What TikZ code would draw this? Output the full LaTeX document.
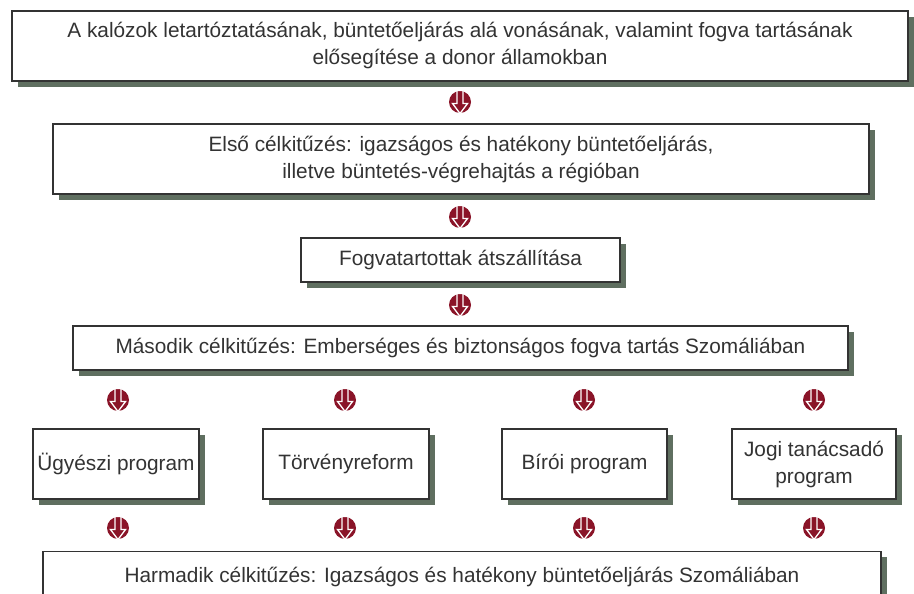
\documentclass[tikz,border=0pt]{standalone}
\usepackage{fontspec}
\setmainfont{Liberation Sans}
\definecolor{shadowc}{HTML}{5F6F60}
\definecolor{iconred}{HTML}{8A1428}
\definecolor{txt}{HTML}{333333}
\begin{document}
\begin{tikzpicture}[x=1pt,y=-1pt,
  box/.style={draw=black!80,line width=1.2pt,fill=white,align=center,text=txt,
     font=\fontsize{20.8}{27}\selectfont,inner sep=0pt},
  icon/.pic={
    \fill[iconred] (0,0) circle (11);
    \filldraw[fill=iconred,draw=white,line width=1.3pt,line join=miter]
      (-3,-11.5) -- (-3,1.5) -- (-7.5,1.5) -- (0,11.5) -- (7.5,1.5) -- (3,1.5) -- (3,-11.5) -- cycle;
  }]
\useasboundingbox (0,0) rectangle (914,594);
\newcommand{\myshbox}[4]{% x1, y1, x2, y2
  \fill[shadowc] (#1+6,#2+6) rectangle (#3+6,#4+6);
}
% shadows
\myshbox{12}{11}{908}{81}
\myshbox{53}{124}{869}{194}
\myshbox{301}{238}{620}{282}
\myshbox{73}{326}{848}{370}
\myshbox{33}{429}{199}{499}
\myshbox{263}{429}{429}{499}
\myshbox{502}{429}{667}{499}
\myshbox{732}{429}{896}{499}
\myshbox{43}{551}{881}{620}
% boxes
\node[box,minimum width=896pt,minimum height=70pt] (a) at (460,46)
  {A kalózok letartóztatásának, büntetőeljárás alá vonásának, valamint fogva tartásának\\elősegítése a donor államokban};
\node[box,minimum width=816pt,minimum height=70pt] (b) at (461,159)
  {Első célkitűzés: igazságos és hatékony büntetőeljárás,\\illetve büntetés-végrehajtás a régióban};
\node[box,minimum width=319pt,minimum height=44pt] (c) at (460.5,260)
  {Fogvatartottak átszállítása};
\node[box,minimum width=775pt,minimum height=44pt] (d) at (460.5,348)
  {Második célkitűzés: Emberséges és biztonságos fogva tartás Szomáliában};
\node[box,minimum width=166pt,minimum height=70pt] (e) at (116,464) {Ügyészi program};
\node[box,minimum width=166pt,minimum height=70pt] (f) at (346,464) {Törvényreform};
\node[box,minimum width=165pt,minimum height=70pt] (g) at (584.5,464) {Bírói program};
\node[box,minimum width=164pt,minimum height=70pt] (h) at (814,464) {Jogi tanácsadó\\program};
\node[box,minimum width=838pt,minimum height=70pt,anchor=north] (i) at (462,551) {};
\node[text=txt,font=\fontsize{20.8}{27}\selectfont] (it) at (462,577)
  {Harmadik célkitűzés: Igazságos és hatékony büntetőeljárás Szomáliában};
% icons (connectors)
\pic at (460,102) {icon};
\pic at (460,217) {icon};
\pic at (460,305) {icon};
\foreach \x in {118,345,584,814} {
  \pic at (\x,400) {icon};
  \pic at (\x,528) {icon};
}
\end{tikzpicture}
\end{document}
